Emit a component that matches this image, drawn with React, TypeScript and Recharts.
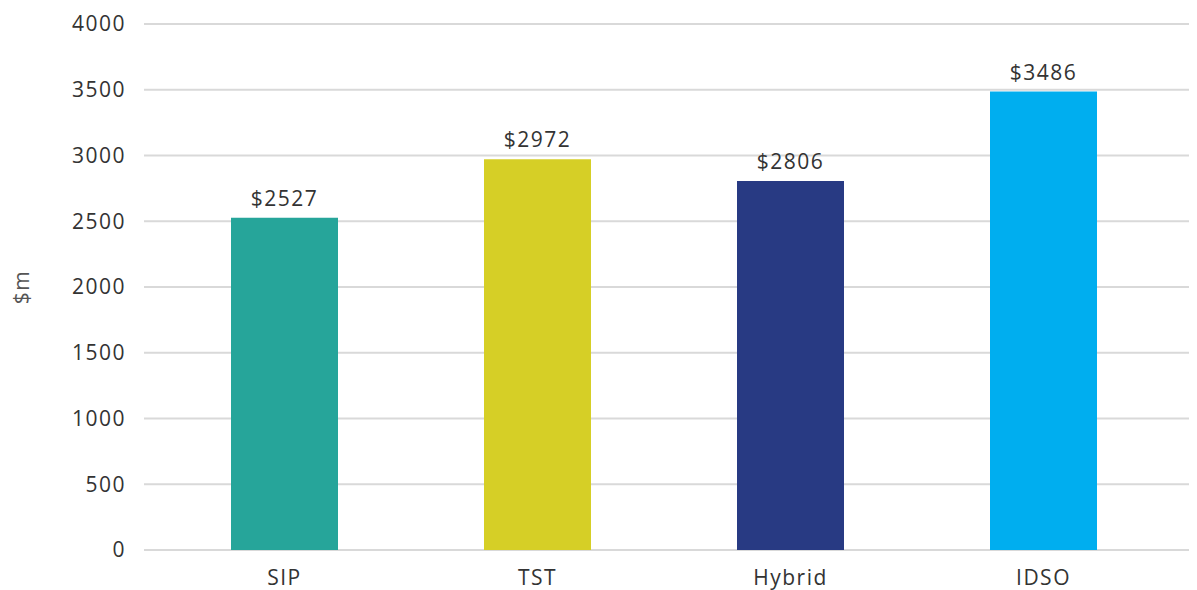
import React from 'react';
import { BarChart, Bar, XAxis, YAxis, CartesianGrid, LabelList, Cell } from 'recharts';

const categories = ['SIP', 'TST', 'Hybrid', 'IDSO'];
const values = [2527, 2972, 2806, 3486];
const colors = ['#26A59A', '#D6CF26', '#283A83', '#00AEEF'];
const yTicks = [0, 500, 1000, 1500, 2000, 2500, 3000, 3500, 4000];

const data = categories.map((c, i) => ({ name: c, value: values[i] }));

const FONT = '"Open Sans", sans-serif';
const TEXT = '#333333';
const textStyle = { fill: TEXT, fontSize: 21, fontFamily: FONT, letterSpacing: 1.5 };

export default function App() {
  return (
    <div style={{ width: 1189, height: 582, fontFamily: FONT }}>
      <BarChart
        width={1189}
        height={582}
        data={data}
        margin={{ top: 16, right: 0, bottom: 0, left: 0 }}
      >
        <CartesianGrid vertical={false} stroke="#d9d9d9" strokeWidth={2} />
        <XAxis
          dataKey="name"
          axisLine={false}
          tickLine={false}
          padding={{ left: 14, right: 27 }}
          height={40}
          tickMargin={14}
          tick={textStyle}
        />
        <YAxis
          width={136}
          domain={[0, 4000]}
          ticks={yTicks}
          axisLine={false}
          tickLine={false}
          tickMargin={12}
          tick={textStyle}
          label={{ value: '$m', angle: -90, position: 'center', dx: -54, fill: '#555', fontSize: 21, fontFamily: FONT, letterSpacing: 1.5 }}
        />
        <Bar dataKey="value" barSize={107} isAnimationActive={false}>
          {data.map((d, i) => (
            <Cell key={d.name} fill={colors[i]} />
          ))}
          <LabelList
            dataKey="value"
            position="top"
            offset={12}
            formatter={(v: number) => `$${v}`}
            style={textStyle}
          />
        </Bar>
      </BarChart>
    </div>
  );
}
